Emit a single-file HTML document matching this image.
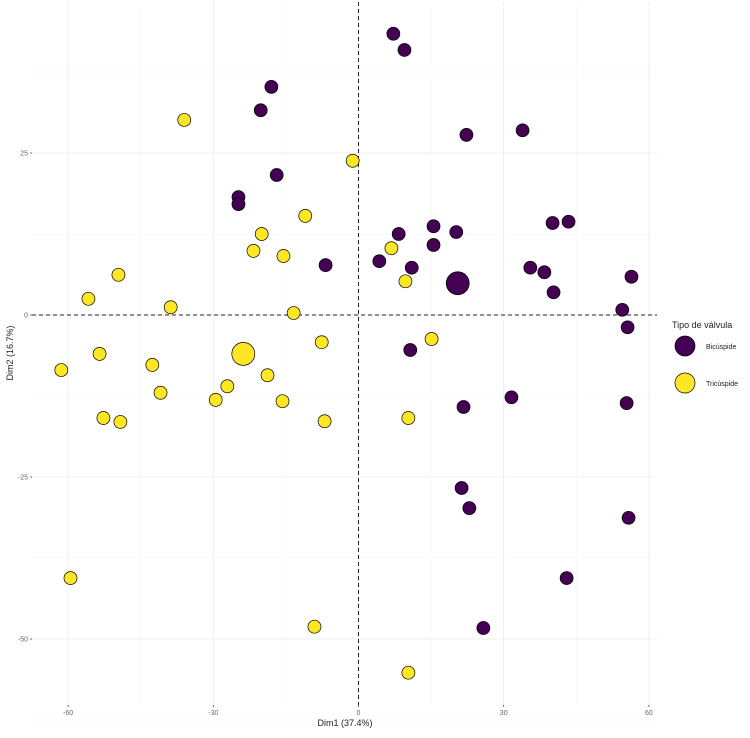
<!DOCTYPE html>
<html><head><meta charset="utf-8"><style>
body{margin:0;background:#fff;font-family:"Liberation Sans","DejaVu Sans",sans-serif}
svg text{font-family:"Liberation Sans","DejaVu Sans",sans-serif}
</style></head><body>
<svg id="chart" width="750" height="733">
<g id="grid"></g>
<g id="axes"></g>
<g id="pts"></g>
<text x="345" y="726" font-size="9" text-anchor="middle" fill="#222">Dim1 (37.4%)</text>
<text transform="translate(13,353) rotate(-90)" font-size="9" text-anchor="middle" fill="#222">Dim2 (16.7%)</text>
<g>
<text x="672" y="328" font-size="9" fill="#222">Tipo de válvula</text>
<g><circle cx="685" cy="346" r="10" fill="#440154" stroke="#000" stroke-width="0.7"/><text x="706" y="349" font-size="7" fill="#222">Bicúspide</text></g>
<g><circle cx="685" cy="383" r="10" fill="#FDE725" stroke="#000" stroke-width="0.7"/><text x="706" y="386" font-size="7" fill="#222">Tricúspide</text></g>
</g>
</svg>
<script>
const bicX=[7.2,9.5,-18.0,-20.2,22.3,33.9,-16.9,-24.8,-24.8,15.5,8.3,20.2,40.1,43.4,15.5,-6.8,4.3,11.0,35.5,38.4,56.4,40.3,54.5,55.6,10.7,31.6,55.4,21.7,21.3,22.9,55.8,43.0,25.8];
const bicY=[43.4,40.9,35.2,31.6,27.8,28.5,21.6,18.2,17.1,13.7,12.5,12.8,14.2,14.4,10.8,7.7,8.3,7.3,7.3,6.6,5.9,3.5,0.8,-1.9,-5.4,-12.7,-13.6,-14.2,-26.7,-29.8,-31.3,-40.6,-48.3];
const triX=[-36.0,-1.2,-11.0,-20.0,-21.7,-15.5,6.8,-49.6,-55.8,-38.8,9.7,-13.4,-7.6,15.1,-53.5,-42.6,-61.4,-18.8,-27.1,-40.9,-29.5,-15.7,-52.7,-49.2,10.3,-7.0,-59.5,-9.1,10.3];
const triY=[30.1,23.8,15.3,12.5,9.9,9.1,10.3,6.2,2.5,1.2,5.2,0.3,-4.2,-3.7,-6.0,-7.7,-8.5,-9.3,-11.0,-12.0,-13.1,-13.3,-15.9,-16.5,-15.9,-16.4,-40.6,-48.1,-55.2];
const centroidX=[20.5,-23.8];
const centroidY=[4.9,-6.0];
const xTicks=[-60,-30,0,30,60];
const yTicks=[25,0,-25,-50];
const xs=v=>358.5+v*4.84, ys=v=>315-v*6.48;
const NS="http://www.w3.org/2000/svg";
function mk(p,tag,a){const e=document.createElementNS(NS,tag);for(const k in a)e.setAttribute(k,a[k]);p.appendChild(e);return e;}
const grid=document.getElementById('grid'),axes=document.getElementById('axes'),pts=document.getElementById('pts');
const L=32,R=657,T=2,B=705;
[-45,-15,15,45].forEach(v=>{const l=mk(grid,'line',{x1:xs(v),x2:xs(v),y1:T,y2:B,stroke:'#f4f4f4','stroke-width':0.5});

});
[37.5,12.5,-12.5,-37.5,-62.5].forEach(v=>{const l=mk(grid,'line',{x1:L,x2:R,y1:ys(v),y2:ys(v),stroke:'#f4f4f4','stroke-width':0.5});

});
xTicks.forEach(v=>{const l=mk(grid,'line',{x1:xs(v),x2:xs(v),y1:T,y2:B,stroke:'#ebebeb','stroke-width':0.8});


const t=mk(axes,'text',{x:xs(v),y:B+10,'font-size':7,'text-anchor':'middle',fill:'#666'});t.textContent=v;


mk(axes,'line',{x1:xs(v),x2:xs(v),y1:B,y2:B+2,stroke:'#333','stroke-width':0.7});});
yTicks.forEach(v=>{const l=mk(grid,'line',{x1:L,x2:R,y1:ys(v),y2:ys(v),stroke:'#ebebeb','stroke-width':0.8});


const t=mk(axes,'text',{x:L-4,y:ys(v)+2.5,'font-size':7,'text-anchor':'end',fill:'#666'});t.textContent=v;


mk(axes,'line',{x1:L-2,x2:L,y1:ys(v),y2:ys(v),stroke:'#333','stroke-width':0.7});});
const vl=mk(axes,'line',{x1:xs(0),x2:xs(0),y1:T,y2:B,stroke:'#222','stroke-width':1,'stroke-dasharray':'4,3'});


const hl=mk(axes,'line',{x1:L,x2:R,y1:ys(0),y2:ys(0),stroke:'#222','stroke-width':1,'stroke-dasharray':'4,3'});


function dots(X,Y,col,r,name){X.forEach((v,i)=>{const c=mk(pts,'circle',{cx:xs(v),cy:ys(Y[i]),r:r,fill:col,stroke:'#000','stroke-width':0.7});

});}
dots(bicX,bicY,'#440154',6.5,'point-bicuspide');
dots(triX,triY,'#FDE725',6.5,'point-tricuspide');
dots([centroidX[0]],[centroidY[0]],'#440154',11.5,'centroid-bicuspide');
dots([centroidX[1]],[centroidY[1]],'#FDE725',11.5,'centroid-tricuspide');
</script>
</body></html>
